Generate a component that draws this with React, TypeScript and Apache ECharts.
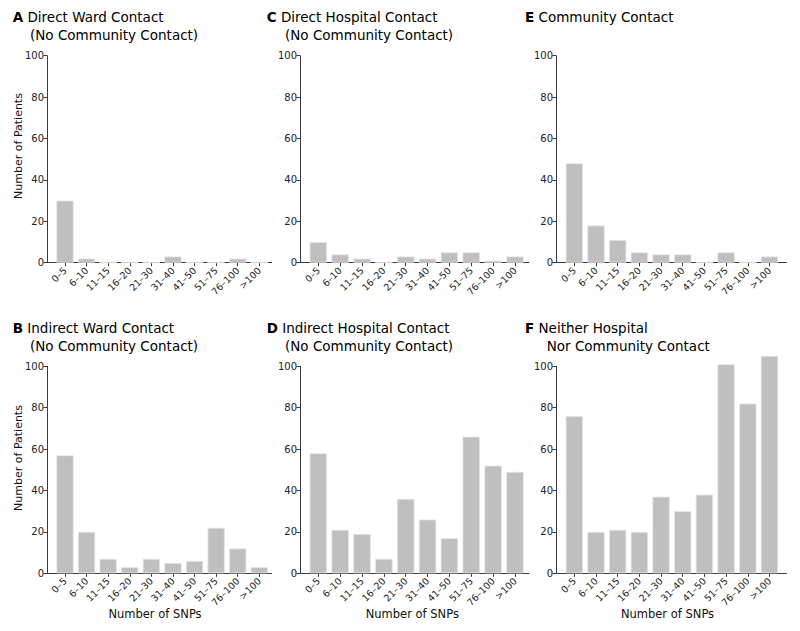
import React, { useEffect, useRef } from 'react';
import * as echarts from 'echarts';

const categories = ['0–5', '6–10', '11–15', '16–20', '21–30', '31–40', '41–50', '51–75', '76–100', '>100'];
const directWard = [30, 2, 0, 0, 0, 3, 0, 0, 2, 0];
const indirectWard = [57, 20, 7, 3, 7, 5, 6, 22, 12, 3];
const directHospital = [10, 4, 2, 0, 3, 2, 5, 5, 1, 3];
const indirectHospital = [58, 21, 19, 7, 36, 26, 17, 66, 52, 49];
const community = [48, 18, 11, 5, 4, 4, 0, 5, 0, 3];
const neither = [76, 20, 21, 20, 37, 30, 38, 101, 82, 105];
const yMin = 0;
const yMax = 100;
const yStep = 20;

const FONT = 'DejaVu Sans';

const cols = [
  { axisX: 47, axisEnd: 271.7, bandL: 54.2, bandR: 270.1, titleX: 12.7, line2X: 30, xNameX: 155 },
  { axisX: 300, axisEnd: 529, bandL: 307.4, bandR: 525.9, titleX: 266.7, line2X: 285, xNameX: 412.3 },
  { axisX: 556, axisEnd: 786.5, bandL: 563.5, bandR: 780.3, titleX: 525, line2X: 546.7, xNameX: 667.5 },
];
const rows = [
  { top: 55.7, height: 207, line1Y: 17.3, line2Y: 34.7, yNameY: 146 },
  { top: 366.3, height: 207, line1Y: 328, line2Y: 345.5, yNameY: 458 },
];

const panels = [
  { letter: 'A', line1: 'Direct Ward Contact', line2: '(No Community Contact)', data: directWard, col: 0, row: 0 },
  { letter: 'B', line1: 'Indirect Ward Contact', line2: '(No Community Contact)', data: indirectWard, col: 0, row: 1 },
  { letter: 'C', line1: 'Direct Hospital Contact', line2: '(No Community Contact)', data: directHospital, col: 1, row: 0 },
  { letter: 'D', line1: 'Indirect Hospital Contact', line2: '(No Community Contact)', data: indirectHospital, col: 1, row: 1 },
  { letter: 'E', line1: 'Community Contact', line2: '', data: community, col: 2, row: 0 },
  { letter: 'F', line1: 'Neither Hospital', line2: 'Nor Community Contact', data: neither, col: 2, row: 1 },
];

const AXIS_COLOR = '#3a3a3a';
const TITLE_SIZE = 13.5;

function buildOption() {
  const grid: any[] = [];
  const xAxis: any[] = [];
  const yAxis: any[] = [];
  const series: any[] = [];
  const title: any[] = [];
  const graphic: any[] = [];

  panels.forEach((p, k) => {
    const c = cols[p.col];
    const r = rows[p.row];
    const fi = 2 * k;
    const bi = 2 * k + 1;
    grid.push({ left: c.axisX, top: r.top, width: c.axisEnd - c.axisX, height: r.height });
    grid.push({ left: c.bandL, top: r.top, width: c.bandR - c.bandL, height: r.height });

    xAxis.push({
      type: 'value', gridIndex: fi, min: 0, max: 1,
      axisLine: { show: true, lineStyle: { color: AXIS_COLOR, width: 1 } },
      axisTick: { show: false }, axisLabel: { show: false }, splitLine: { show: false },
    });
    yAxis.push({
      type: 'value', gridIndex: fi, min: yMin, max: yMax, interval: yStep,
      axisLine: { show: true, lineStyle: { color: AXIS_COLOR, width: 1 } },
      axisTick: { show: true, length: 3.5, lineStyle: { color: AXIS_COLOR } },
      axisLabel: { fontSize: 10, color: '#222', margin: 3, fontFamily: FONT },
      splitLine: { show: false },
    });
    xAxis.push({
      type: 'category', gridIndex: bi, data: categories,
      axisLine: { show: false },
      axisTick: { show: true, alignWithLabel: true, length: 3.5, lineStyle: { color: AXIS_COLOR } },
      axisLabel: { rotate: 45, fontSize: 9.5, color: '#222', margin: 6, interval: 0, fontFamily: FONT },
      splitLine: { show: false },
    });
    yAxis.push({ type: 'value', gridIndex: bi, min: yMin, max: yMax, show: false, splitLine: { show: false } });

    series.push({
      type: 'bar', xAxisIndex: bi, yAxisIndex: bi, data: p.data,
      barCategoryGap: '20%', clip: false,
      itemStyle: { color: '#bfbfbf', borderColor: '#e6e6e6', borderWidth: 0.8 },
    });

    title.push({
      text: `{b|${p.letter}} ${p.line1}`,
      left: c.titleX, top: r.line1Y - 8, padding: 0,
      textStyle: {
        fontFamily: FONT, fontSize: TITLE_SIZE, fontWeight: 'normal', color: '#000', lineHeight: 16,
        rich: { b: { fontFamily: FONT, fontSize: TITLE_SIZE, fontWeight: 'bold', color: '#000', lineHeight: 16 } },
      },
    });
    if (p.line2) {
      title.push({
        text: p.line2, left: c.line2X, top: r.line2Y - 8, padding: 0,
        textStyle: { fontFamily: FONT, fontSize: TITLE_SIZE, fontWeight: 'normal', color: '#000', lineHeight: 16 },
      });
    }
    if (p.col === 0) {
      graphic.push({
        type: 'text', x: 18.3, y: r.yNameY, rotation: Math.PI / 2,
        style: { text: 'Number of Patients', font: `11px "${FONT}"`, fill: '#111', textAlign: 'center', textVerticalAlign: 'middle' },
      });
    }
    if (p.row === 1) {
      graphic.push({
        type: 'text', x: c.xNameX, y: 614,
        style: { text: 'Number of SNPs', font: `11.5px "${FONT}"`, fill: '#111', textAlign: 'center', textVerticalAlign: 'middle' },
      });
    }
  });

  return { animation: false, backgroundColor: '#fff', title, grid, xAxis, yAxis, series, graphic };
}

export default function App() {
  const ref = useRef<HTMLDivElement>(null);
  useEffect(() => {
    if (!ref.current) return;
    const chart = echarts.init(ref.current, undefined, { renderer: 'svg' });
    chart.setOption(buildOption() as any);
    return () => chart.dispose();
  }, []);
  return <div ref={ref} style={{ position: 'absolute', left: 0, top: 0, width: 800, height: 631 }} />;
}
